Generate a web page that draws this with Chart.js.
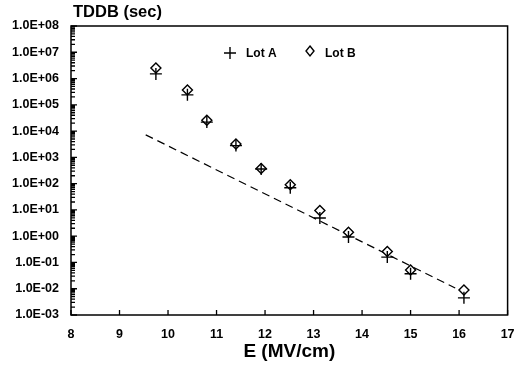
<!DOCTYPE html>
<html>
<head>
<meta charset="utf-8">
<script src="https://cdn.jsdelivr.net/npm/chart.js@4"></script>
<style>
  html, body { margin: 0; padding: 0; background: #fff; }
  #wrap { width: 515px; height: 369px; }
</style>
</head>
<body>
<div id="wrap"><canvas id="chart" width="515" height="369"></canvas></div>
<script>
// field (MV/cm) and time-to-breakdown (sec)
const fieldA = [9.75, 10.4, 10.8, 11.4, 11.92, 12.52, 13.13, 13.72, 14.52, 15.0, 16.1];
const tddbA = [1.5e6, 2.4e5, 2.2e4, 2.8e3, 360, 70, 4.9, 0.93, 0.16, 0.037, 0.0045];
const fieldB = [9.75, 10.4, 10.8, 11.4, 11.92, 12.52, 13.13, 13.72, 14.52, 15.0, 16.1];
const tddbB = [2.5e6, 3.7e5, 2.6e4, 3.2e3, 380, 90, 9.5, 1.4, 0.26, 0.052, 0.009];
const fitField = [9.54, 15.92];
const fitTddb = [7200, 0.0107];
const xTicks = [8, 9, 10, 11, 12, 13, 14, 15, 16, 17];
const decades = [-3, -2, -1, 0, 1, 2, 3, 4, 5, 6, 7, 8];
const seriesNames = ["Lot A", "Lot B"];

const FONT = "'Liberation Sans', Arial, sans-serif";
const toPts = (xs, ys) => xs.map((x, i) => ({ x: x, y: ys[i] }));

function sciLabel(v) {
  const e = Math.round(Math.log10(v));
  return "1.0E" + (e < 0 ? "-" : "+") + String(Math.abs(e)).padStart(2, "0");
}

// frame, inward tick marks, legend inside the plot and the top-left title
const framePlugin = {
  id: "frame",
  afterDraw(chart) {
    const { ctx, chartArea: a, scales } = chart;
    ctx.save();
    ctx.strokeStyle = "#000";
    ctx.lineWidth = 1.5;
    ctx.strokeRect(a.left, a.top, a.right - a.left, a.bottom - a.top);

    ctx.lineWidth = 1.3;
    ctx.beginPath();
    scales.y.ticks.forEach(t => {
      const py = scales.y.getPixelForValue(t.value);
      const len = t.label ? 6 : 4;
      ctx.moveTo(a.left, py);
      ctx.lineTo(a.left + len, py);
    });
    scales.x.ticks.forEach(t => {
      const px = scales.x.getPixelForValue(t.value);
      ctx.moveTo(px, a.bottom);
      ctx.lineTo(px, a.bottom - 5);
    });
    ctx.stroke();

    // legend
    const ly = a.top + 27;
    ctx.lineWidth = 1.4;
    ctx.beginPath();
    const cx = 230;
    ctx.moveTo(cx - 6, ly); ctx.lineTo(cx + 6, ly);
    ctx.moveTo(cx, ly - 6); ctx.lineTo(cx, ly + 6);
    ctx.stroke();
    const dx = 310, dy = ly - 2;
    ctx.beginPath();
    ctx.moveTo(dx, dy - 5); ctx.lineTo(dx + 4, dy);
    ctx.lineTo(dx, dy + 5); ctx.lineTo(dx - 4, dy);
    ctx.closePath();
    ctx.stroke();
    ctx.fillStyle = "#000";
    ctx.font = "bold 12px " + FONT;
    ctx.textBaseline = "middle";
    ctx.textAlign = "left";
    ctx.fillText(seriesNames[0], 246, ly + 1);
    ctx.fillText(seriesNames[1], 325, ly + 1);

    ctx.font = "bold 16.5px " + FONT;
    ctx.fillText("TDDB (sec)", a.left + 2, 12);
    ctx.restore();
  }
};

new Chart(document.getElementById("chart"), {
  type: "scatter",
  data: {
    datasets: [
      {
        label: seriesNames[0],
        data: toPts(fieldA, tddbA),
        pointStyle: "cross",
        pointRadius: 6,
        borderColor: "#000",
        borderWidth: 1.4,
        backgroundColor: "#000"
      },
      {
        label: seriesNames[1],
        data: toPts(fieldB, tddbB),
        pointStyle: "rectRot",
        pointRadius: 5,
        borderColor: "#000",
        borderWidth: 1.4,
        backgroundColor: "#fff"
      },
      {
        label: "fit",
        type: "line",
        data: toPts(fitField, fitTddb),
        borderColor: "#000",
        borderWidth: 1.2,
        borderDash: [8, 5],
        pointRadius: 0,
        fill: false
      }
    ]
  },
  options: {
    responsive: false,
    animation: false,
    layout: { padding: { top: 26, right: 6, left: 0, bottom: 0 } },
    plugins: {
      title: { display: false },
      tooltip: { enabled: false },
      legend: { display: false }
    },
    scales: {
      x: {
        type: "linear",
        min: 8,
        max: 17,
        afterBuildTicks: s => { s.ticks = xTicks.map(v => ({ value: v })); },
        afterFit: s => { s.height = 54; s.paddingLeft = 0; s.paddingRight = 0; },
        grid: { display: false },
        border: { display: false },
        ticks: {
          color: "#000",
          padding: 4,
          font: { family: FONT, size: 12.5, weight: "bold" },
          autoSkip: false,
          maxRotation: 0
        },
        title: {
          display: true,
          text: "E (MV/cm)",
          color: "#000",
          font: { family: FONT, size: 19, weight: "bold" },
          padding: { top: 2, bottom: 6 }
        }
      },
      y: {
        type: "logarithmic",
        min: 1e-3,
        max: 1e8,
        afterBuildTicks: s => {
          const t = [];
          decades.forEach(e => {
            for (let m = 1; m <= 9; m++) {
              if (e === 8 && m > 1) break;
              t.push({ value: m * Math.pow(10, e), major: m === 1 });
            }
          });
          s.ticks = t;
        },
        afterFit: s => { s.width = 71; s.paddingTop = 0; s.paddingBottom = 0; },
        grid: { display: false },
        border: { display: false },
        ticks: {
          color: "#000",
          padding: 4,
          autoSkip: false,
          font: { family: FONT, size: 12.5, weight: "bold" },
          callback: v => {
            const l = Math.log10(v);
            return Math.abs(l - Math.round(l)) < 1e-9 ? sciLabel(v) : "";
          }
        }
      }
    }
  },
  plugins: [framePlugin]
});
</script>
</body>
</html>
